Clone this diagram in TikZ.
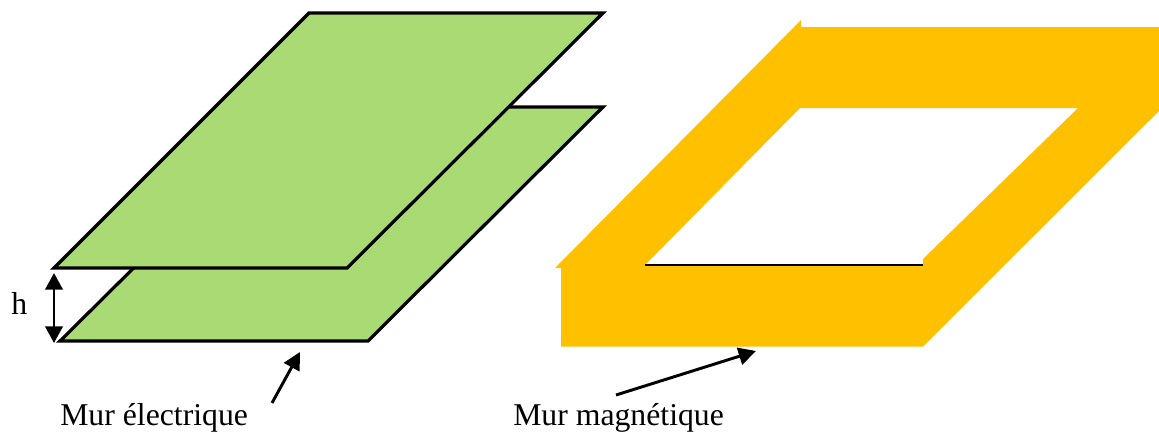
\documentclass[tikz,border=0pt]{standalone}
\usepackage{fontspec}
\setmainfont{Liberation Serif}
\usetikzlibrary{arrows.meta}
\definecolor{plategreen}{HTML}{A9DA74}
\definecolor{wallorange}{HTML}{FFC000}
\tikzset{
  plate/.style={fill=plategreen,draw=black,line width=2.4pt,line join=miter,miter limit=10},
  pointer/.style={draw=black,line width=2.2pt,-{Triangle[length=13pt,width=13pt]}},
  dimarrow/.style={draw=black,line width=2.2pt,{Triangle[length=12.5pt,width=13pt]}-{Triangle[length=12.5pt,width=13pt]}},
  caption/.style={anchor=base west,inner sep=0pt,font=\fontsize{23.8}{29}\selectfont},
}
\begin{document}
\begin{tikzpicture}[x=0.75pt,y=-0.75pt]
\useasboundingbox (0,0) rectangle (1159,432);
% lower plate
\draw[plate] (603,107) -- (296,107) -- (60,341) -- (368,341) -- cycle;
% upper plate
\draw[plate] (54,268) -- (309,13) -- (603,13) -- (347,268) -- cycle;
% magnetic wall
\fill[wallorange,even odd rule]
  (555,268) -- (801,20) -- (801,27) -- (1159,27) -- (1159,111) -- (923,346.5) -- (561,346.5) -- (561,268) -- cycle
  (645,265) -- (800,108) -- (1078,108) -- (923,259) -- (923,265) -- cycle;
\coordinate (holeL) at (645,265);
\coordinate (holeR) at (923,265);
\draw[black,line width=0.8pt] (holeL) -- (holeR);
% height
\coordinate (hTop) at (54,273);
\coordinate (hBot) at (54,343);
\draw[dimarrow] (hTop) -- (hBot);
\node[caption] (hlabel) at (11,314) {h};
% labels
\node[caption] (elec) at (60,425) {Mur électrique};
\node[caption] (magn) at (513,425) {Mur magnétique};
\coordinate (elecStart) at (272,403);
\coordinate (elecTip) at (300,352);
\coordinate (magnStart) at (616,395);
\coordinate (magnTip) at (756,351);
\draw[pointer] (elecStart) -- (elecTip);
\draw[pointer] (magnStart) -- (magnTip);
\end{tikzpicture}
\end{document}
